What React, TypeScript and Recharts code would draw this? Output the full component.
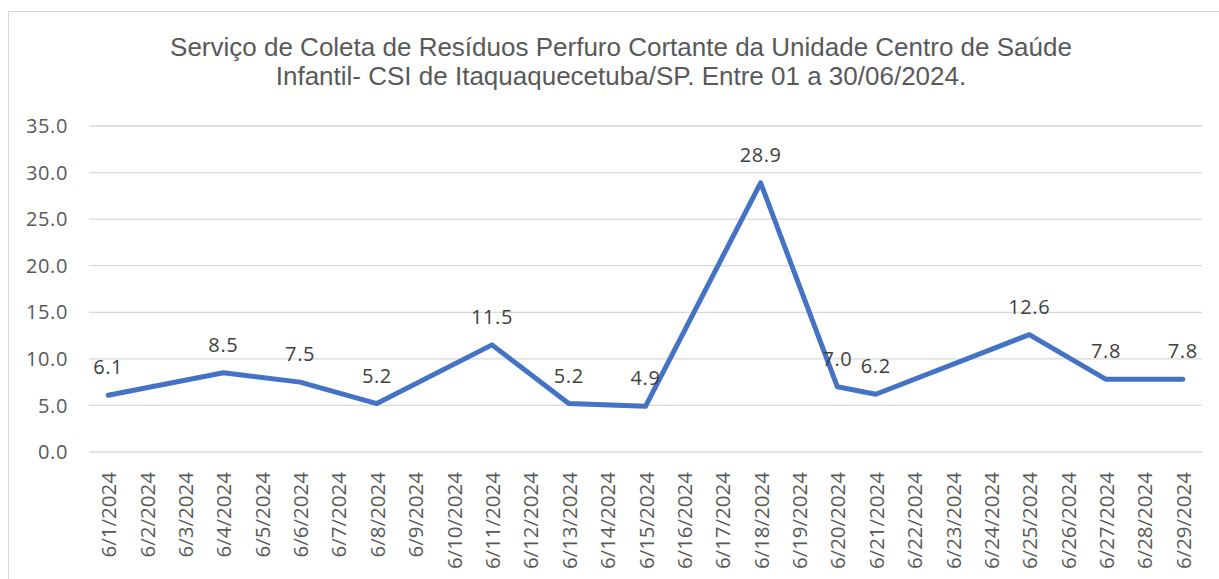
import React from "react";
import { LineChart, Line, XAxis, YAxis, CartesianGrid, LabelList } from "recharts";

const days: number[] = Array.from({ length: 29 }, (_, i) => i + 1);
const dateLabels: string[] = days.map((d) => `6/${d}/2024`);
const values: (number | null)[] = [
  6.1, null, null, 8.5, null, 7.5, null, 5.2, null, null, 11.5, null, 5.2, null, 4.9,
  null, null, 28.9, null, 7.0, 6.2, null, null, null, 12.6, null, 7.8, null, 7.8,
];
const yTicks: number[] = [0, 5, 10, 15, 20, 25, 30, 35];
const titleLines: string[] = [
  "Serviço de Coleta de Resíduos Perfuro Cortante da Unidade Centro de Saúde",
  "Infantil- CSI de Itaquaquecetuba/SP. Entre 01 a 30/06/2024.",
];

const data = days.map((d, i) => ({ day: d, label: dateLabels[i], value: values[i] }));
const boundaryTicks: number[] = [0, ...days].map((d) => d + 0.5);

const FONT = "'Open Sans', 'Noto Sans', sans-serif";

const EmptyTick = () => <g />;

const DateTick = (props: any) => {
  const { x, y, payload } = props;
  return (
    <text
      x={x}
      y={y}
      transform={`rotate(-90 ${x} ${y})`}
      textAnchor="end"
      dominantBaseline="central"
      fill="#595959"
      fontSize={20.5}
      fontFamily={FONT}
    >
      {`6/${payload.value}/2024`}
    </text>
  );
};

export default function App() {
  return (
    <div style={{ position: "absolute", left: 0, top: 0, width: 1219, height: 579, background: "#fff", overflow: "hidden" }}>
      <div
        style={{
          position: "absolute",
          left: 8,
          top: 11,
          width: 1230,
          height: 600,
          border: "1px solid #d9d9d9",
          boxSizing: "border-box",
        }}
      />
      <div
        style={{
          position: "absolute",
          left: 0,
          top: 33,
          width: 1242,
          textAlign: "center",
          fontFamily: "'Liberation Sans', Arial, sans-serif",
          fontSize: 26,
          lineHeight: "29px",
          color: "#595959",
        }}
      >
        {titleLines.map((t) => (
          <div key={t}>{t}</div>
        ))}
      </div>
      <div style={{ position: "absolute", left: 0, top: 0 }}>
        <LineChart width={1219} height={579} data={data} margin={{ top: 126, right: 17, bottom: 0, left: 0 }}>
          <CartesianGrid horizontal vertical={false} stroke="#d9d9d9" strokeWidth={1.3} />
          <XAxis
            xAxisId="marks"
            type="number"
            dataKey="day"
            domain={[0.5, 29.5]}
            ticks={boundaryTicks}
            interval={0}
            tick={<EmptyTick />}
            tickSize={7}
            tickLine={{ stroke: "#d9d9d9", strokeWidth: 1.3 }}
            axisLine={{ stroke: "#d9d9d9", strokeWidth: 1.3 }}
            height={0}
          />
          <XAxis
            xAxisId="labels"
            type="number"
            dataKey="day"
            domain={[0.5, 29.5]}
            ticks={days}
            interval={0}
            tick={<DateTick />}
            tickLine={false}
            axisLine={false}
            tickMargin={14}
            height={127}
          />
          <YAxis
            domain={[0, 35]}
            ticks={yTicks}
            interval={0}
            tickFormatter={(v: number) => v.toFixed(1)}
            tick={{ fill: "#595959", fontSize: 20, fontFamily: FONT, letterSpacing: 0.6 }}
            axisLine={false}
            tickLine={false}
            width={89}
            tickMargin={15}
          />
          <Line
            xAxisId="labels"
            dataKey="value"
            type="linear"
            stroke="#4472C4"
            strokeWidth={5}
            dot={false}
            connectNulls
            isAnimationActive={false}
            strokeLinejoin="round"
            strokeLinecap="round"
          >
            <LabelList
              dataKey="value"
              position="top"
              offset={21}
              formatter={(v: any) => (v == null ? "" : Number(v).toFixed(1))}
              fill="#404040"
              fontSize={20}
              letterSpacing={0.6}
              fontFamily={FONT}
            />
          </Line>
        </LineChart>
      </div>
    </div>
  );
}
